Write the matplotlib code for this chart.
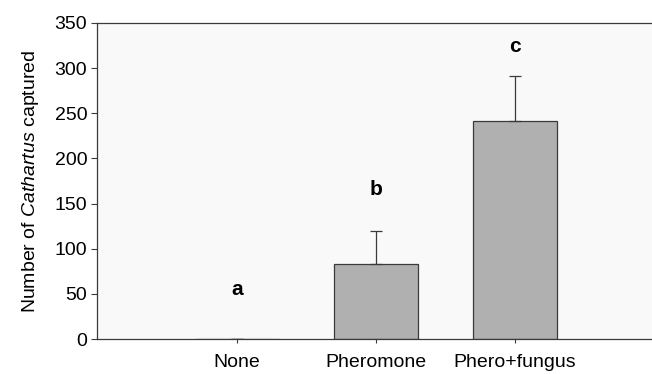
import matplotlib
matplotlib.use("Agg")
import matplotlib.pyplot as plt

plt.rcParams['font.family'] = ['Liberation Sans', 'DejaVu Sans']
plt.rcParams['mathtext.fontset'] = 'custom'
plt.rcParams['mathtext.rm'] = 'Liberation Sans'
plt.rcParams['mathtext.it'] = 'Liberation Sans:italic'

treatments = ["None", "Pheromone", "Phero+fungus"]
means = [0, 83, 242]
errors = [0, 37, 49]
letters = ["a", "b", "c"]
letter_y = [55, 166, 324]

fig = plt.figure(figsize=(6.52, 3.74), dpi=100)
ax = fig.add_axes([97 / 652, 35 / 374, 1 - 97 / 652, 316 / 374])
ax.set_facecolor("#f9f9f9")

x = range(len(treatments))
ax.bar(x, means, width=0.6, color="#b0b0b0", edgecolor="#3a3a3a", linewidth=0.9,
       yerr=[[0] * 3, errors], error_kw=dict(ecolor="#3a3a3a", elinewidth=0.9, capsize=4, capthick=0.9))

for i, (lab, ly) in enumerate(zip(letters, letter_y)):
    ax.text(i, ly, lab, ha="center", va="center", fontsize=15, fontweight="bold")

ax.set_xlim(-1.007, 2.986)
ax.set_ylim(0, 350)
ax.set_yticks(range(0, 351, 50))
ax.set_xticks(list(x))
ax.set_xticklabels(treatments)
ax.set_ylabel("Number of $\\it{Cathartus}$ captured", fontsize=14, labelpad=10)
ax.tick_params(axis="both", labelsize=14, direction="out", color="#3a3a3a")
ax.tick_params(axis="y", length=4, pad=3)
ax.tick_params(axis="x", length=3, pad=8)
ax.spines["right"].set_visible(False)
for s in ["left", "top", "bottom"]:
    ax.spines[s].set_color("#3a3a3a")
    ax.spines[s].set_linewidth(0.9)

fig.savefig("out.png", dpi=100)
